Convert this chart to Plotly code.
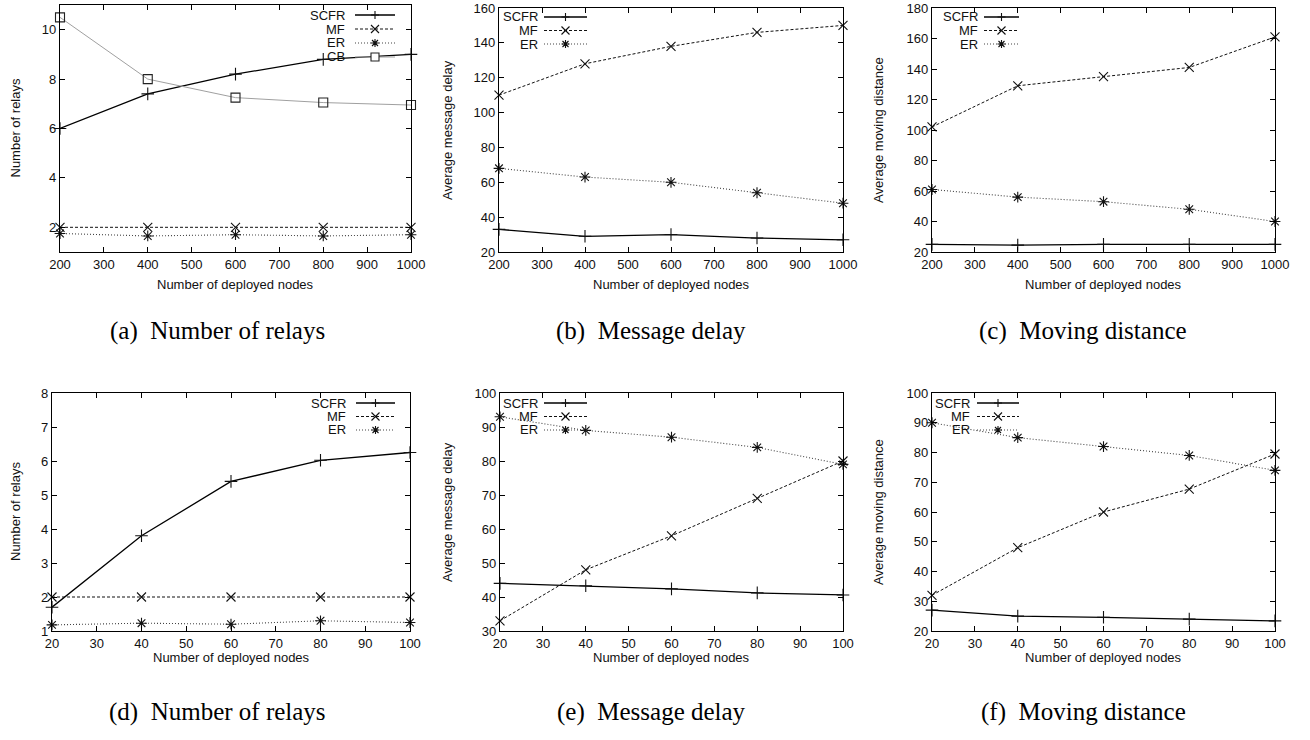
import plotly.graph_objects as go

W, H = 1310, 740

# ---------------- data ----------------
x_top = [200, 400, 600, 800, 1000]
x_bot = [20, 40, 60, 80, 100]

a_scfr = [6.0, 7.4, 8.2, 8.8, 9.0]
a_mf = [2.0, 2.0, 2.0, 2.0, 2.0]
a_er = [1.75, 1.65, 1.7, 1.65, 1.7]
a_cb = [10.5, 8.0, 7.25, 7.05, 6.95]

b_scfr = [33, 29, 30, 28, 27]
b_mf = [110, 128, 138, 146, 150]
b_er = [68, 63, 60, 54, 48]

c_scfr = [25, 24.5, 25, 25, 25]
c_mf = [102, 129, 135, 141, 161]
c_er = [61, 56, 53, 48, 40]

d_scfr = [1.7, 3.8, 5.4, 6.02, 6.25]
d_mf = [2.0, 2.0, 2.0, 2.0, 2.0]
d_er = [1.18, 1.23, 1.2, 1.3, 1.25]

e_scfr = [44, 43.3, 42.4, 41.2, 40.6]
e_mf = [33, 48, 58, 69, 80]
e_er = [93, 89, 87, 84, 79]

f_scfr = [27, 25, 24.6, 24, 23.4]
f_mf = [32, 48, 60, 67.7, 79.5]
f_er = [90, 85, 82, 79, 74]

x_title = "Number of deployed nodes"
captions = ["(a)\u00a0 Number of relays", "(b)\u00a0 Message delay", "(c)\u00a0 Moving distance",
            "(d)\u00a0 Number of relays", "(e)\u00a0 Message delay", "(f)\u00a0 Moving distance"]
y_titles = ["Number of relays", "Average message delay", "Average moving distance",
            "Number of relays", "Average message delay", "Average moving distance"]

# ---------------- styles ----------------
STY = {
    "SCFR": dict(color="#000000", dash="solid", width=1.3, symbol="cross-thin-open"),
    "MF": dict(color="#111111", dash="3px,2px", width=1.0, symbol="x-thin-open"),
    "ER": dict(color="#444444", dash="1px,2px", width=1.1, symbol="asterisk-open"),
    "CB": dict(color="#a0a0a0", dash="solid", width=1.0, symbol="square-open"),
}

# panel pixel boxes: (left, right, top, bottom)
boxes = [
    (60, 411, 5, 252), (499, 843, 8, 252), (932, 1275, 8, 252),
    (52, 410, 393, 631), (500, 843, 393, 631), (932, 1275, 393, 631),
]
yranges = [[1, 11], [20, 160], [20, 180], [1, 8], [30, 100], [20, 100]]
ydticks = [2, 20, 20, 1, 10, 10]
ytick0 = [2, 20, 20, 1, 30, 20]

panels = [
    (x_top, [("SCFR", a_scfr), ("MF", a_mf), ("ER", a_er), ("CB", a_cb)]),
    (x_top, [("SCFR", b_scfr), ("MF", b_mf), ("ER", b_er)]),
    (x_top, [("SCFR", c_scfr), ("MF", c_mf), ("ER", c_er)]),
    (x_bot, [("SCFR", d_scfr), ("MF", d_mf), ("ER", d_er)]),
    (x_bot, [("SCFR", e_scfr), ("MF", e_mf), ("ER", e_er)]),
    (x_bot, [("SCFR", f_scfr), ("MF", f_mf), ("ER", f_er)]),
]

# legend layout per panel: (text right edge px, line start px, line end px, first row y px, row step)
legends = [
    (347, 355, 395, 15, 14),
    (540, 544, 587, 17, 13.5),
    (980, 984, 1019, 17, 13.5),
    (348, 356, 395, 403, 13.5),
    (540, 544, 587, 403, 13.5),
    (972, 977, 1019, 403, 13.5),
]

def px(x):
    return x / W

def py(y):
    return 1 - y / H

FONT = "Liberation Sans, Arial, sans-serif"

fig = go.Figure()
layout = dict(
    template="none",
    width=W, height=H, autosize=False,
    margin=dict(l=0, r=0, t=0, b=0, pad=0),
    paper_bgcolor="white", plot_bgcolor="white",
    showlegend=False,
    font=dict(family=FONT, size=13, color="#111"),
)
annotations = []
shapes = []

axis_common = dict(
    showline=True, linecolor="#000", linewidth=1.2, mirror="allticks",
    ticks="inside", ticklen=5, tickcolor="#000", tickwidth=1,
    showgrid=False, zeroline=False, automargin=False,
    ticklabeloverflow="allow",
    tickfont=dict(family=FONT, size=13, color="#111"),
)

for i, ((xv, series), (l, r, t, b)) in enumerate(zip(panels, boxes)):
    n = i + 1
    xa = "xaxis" if n == 1 else f"xaxis{n}"
    ya = "yaxis" if n == 1 else f"yaxis{n}"
    xr = "x" if n == 1 else f"x{n}"
    yr = "y" if n == 1 else f"y{n}"
    top_row = i < 3
    layout[xa] = dict(
        axis_common, domain=[px(l), px(r)], anchor=yr,
        range=[200, 1000] if top_row else [20, 100],
        tick0=200 if top_row else 20, dtick=100 if top_row else 10,
    )
    layout[ya] = dict(
        axis_common, domain=[py(b), py(t)], anchor=xr,
        range=yranges[i], tick0=ytick0[i], dtick=ydticks[i],
    )
    for name, vals in series:
        s = STY[name]
        fig.add_trace(go.Scatter(
            x=xv, y=vals, name=name, mode="lines+markers",
            xaxis=xr, yaxis=yr, cliponaxis=False,
            line=dict(color=s["color"], dash=s["dash"], width=s["width"]),
            marker=dict(symbol=s["symbol"], size=9, color="#111" if name != "CB" else "#222",
                        line=dict(color="#111" if name != "CB" else "#222", width=1.1)),
        ))
    # axis titles as annotations
    xty = b + 33 if top_row else b + 26
    annotations.append(dict(
        text=x_title, x=px((l + r) / 2), y=py(xty), xref="paper", yref="paper",
        showarrow=False, xanchor="center", yanchor="middle",
        font=dict(family=FONT, size=13, color="#111"),
    ))
    ytx = [15, 447, 878, 15, 447, 878][i]
    annotations.append(dict(
        text=y_titles[i], x=px(ytx), y=py((t + b) / 2), xref="paper", yref="paper",
        showarrow=False, xanchor="center", yanchor="middle", textangle=-90,
        font=dict(family=FONT, size=13, color="#111"),
    ))
    capx = [218, 651, 1083, 218, 651, 1083][i]
    capy = 331 if top_row else 712
    annotations.append(dict(
        text=captions[i], x=px(capx), y=py(capy), xref="paper", yref="paper",
        showarrow=False, xanchor="center", yanchor="middle",
        font=dict(family="Liberation Serif, Times New Roman, serif", size=25, color="#000"),
    ))
    # manual gnuplot-style key
    tx, lx0, lx1, y0, step = legends[i]
    for k, (name, _) in enumerate(series):
        s = STY[name]
        yy = y0 + k * step
        annotations.append(dict(
            text=name, x=px(tx), y=py(yy), xref="paper", yref="paper",
            showarrow=False, xanchor="right", yanchor="middle",
            font=dict(family=FONT, size=13, color="#111"),
        ))
        shapes.append(dict(
            type="line", xref="paper", yref="paper",
            x0=px(lx0), x1=px(lx1), y0=py(yy), y1=py(yy),
            line=dict(color=s["color"], dash=s["dash"], width=s["width"]),
        ))
        cx = (lx0 + lx1) / 2
        d = 4
        if name == "SCFR":
            path = f"M{px(cx-d)},{py(yy)} L{px(cx+d)},{py(yy)} M{px(cx)},{py(yy-d)} L{px(cx)},{py(yy+d)}"
        elif name == "MF":
            path = f"M{px(cx-d)},{py(yy-d)} L{px(cx+d)},{py(yy+d)} M{px(cx-d)},{py(yy+d)} L{px(cx+d)},{py(yy-d)}"
        elif name == "ER":
            path = (f"M{px(cx-d)},{py(yy)} L{px(cx+d)},{py(yy)} M{px(cx)},{py(yy-d)} L{px(cx)},{py(yy+d)} "
                    f"M{px(cx-d*0.75)},{py(yy-d*0.75)} L{px(cx+d*0.75)},{py(yy+d*0.75)} "
                    f"M{px(cx-d*0.75)},{py(yy+d*0.75)} L{px(cx+d*0.75)},{py(yy-d*0.75)}")
        else:
            path = (f"M{px(cx-d)},{py(yy-d)} L{px(cx+d)},{py(yy-d)} L{px(cx+d)},{py(yy+d)} "
                    f"L{px(cx-d)},{py(yy+d)} Z")
        shapes.append(dict(
            type="path", xref="paper", yref="paper", path=path,
            line=dict(color="#111" if name != "CB" else "#222", width=1.1),
            fillcolor="white" if name == "CB" else None,
        ))

layout["annotations"] = annotations
layout["shapes"] = shapes
fig.update_layout(**layout)

fig.write_html("out.html", config={"displayModeBar": False},
               post_script="document.body.style.margin='0';document.body.style.overflow='hidden';")
